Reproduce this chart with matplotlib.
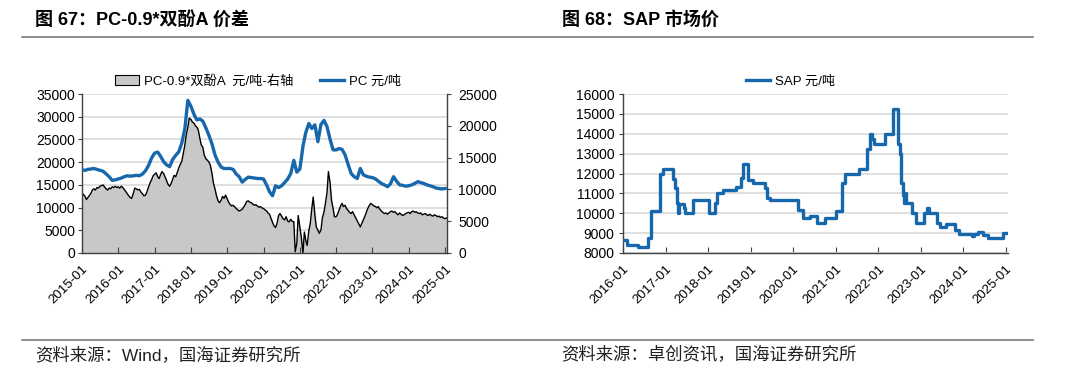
import numpy as np
import pandas as pd
import matplotlib
matplotlib.use('Agg')
import matplotlib.pyplot as plt
import matplotlib.dates as mdates
from matplotlib.lines import Line2D
from matplotlib.patches import Patch
from matplotlib.transforms import blended_transform_factory

plt.rcParams['font.family'] = ['Liberation Sans', 'Noto Sans CJK SC']
plt.rcParams['axes.unicode_minus'] = False

# ---------------- data ----------------
# PC price (yuan/t), monthly from 2015-01
pc_price = [
    18300, 18200, 18400, 18500, 18600, 18400, 18200, 18000, 17400, 16800, 16000, 16100,
    16300, 16500, 16800, 17000, 16900, 17000, 17100, 17000, 17400, 18100, 19300, 20900,
    22000, 22200, 21300, 20100, 19400, 19000, 20600, 21500, 22300, 24200, 27400, 33600,
    32300, 30500, 29300, 29500, 29000, 27500, 25900, 24000, 21500, 20000, 18900, 18600,
    18600, 18600, 18400, 17400, 16800, 15600, 16200, 16700, 16600, 16500, 16400, 16400,
    16300, 15000, 13500, 12600, 14800, 14400, 14800, 15500, 16300, 17500, 20400, 17800,
    18500, 23500, 26500, 28500, 27400, 28200, 24500, 28300, 29200, 27800, 25000, 22700,
    22700, 23000, 22800, 21600, 19500, 17500, 16800, 16400, 18600, 17200, 16900, 16700,
    16600, 16300, 15800, 15300, 15000, 14600, 15200, 16800, 15800, 15000, 14900, 14700,
    14800, 15000, 15300, 15700, 15500, 15300, 15000, 14800, 14600, 14300, 14200, 14100,
    14200,
]

# PC - 0.9*BPA spread (yuan/t, right axis), semi-monthly from 2015-01-01
spread = [
    9400, 9200, 8900, 8400, 8700, 9000, 9400, 9900, 10100, 9900, 10300, 10200,
    10500, 10600, 10700, 10400, 10100, 9900, 10200, 10100, 10400, 10300, 10500, 10300,
    10400, 10200, 10500, 10300, 10000, 9700, 9300, 9000, 8700, 8600, 9400, 10200,
    10100, 9900, 10000, 9600, 9300, 9000, 9100, 9600, 10400, 11000, 11500, 12100,
    12400, 12600, 12000, 11700, 12300, 12800, 12500, 12000, 11400, 10800, 10500, 10900,
    11600, 12200, 12000, 12600, 13400, 13900, 14400, 15600, 17000, 18600, 19800, 21200,
    21000, 20600, 20400, 20000, 19800, 19400, 18000, 17000, 16600, 15400, 14800, 14600,
    14300, 13800, 12500, 11000, 10000, 9000, 8200, 7900, 8300, 8900, 8600, 9100,
    8500, 8000, 7600, 7400, 7500, 7300, 7000, 6800, 6600, 6700, 6900, 7200,
    7600, 8100, 8200, 8000, 7900, 7700, 7500, 7600, 7400, 7200, 7300, 7100,
    7000, 6800, 6600, 6300, 6100, 5500, 4800, 4300, 4000, 4600, 5900, 6200,
    5800, 5400, 5200, 5700, 5000, 4900, 5300, 5000, 4900, 200, 1500, 5900,
    4100, 2500, 0, 3300, 2000, 1200, 3500, 4600, 7000, 8800, 6000, 4100,
    3600, 3100, 3600, 5500, 6500, 7800, 9500, 12800, 11000, 8300, 7000, 5700,
    5700, 6100, 6800, 7400, 7800, 7300, 7500, 7000, 6700, 6400, 6200, 6500,
    6000, 5600, 5000, 4600, 4100, 4600, 5200, 5700, 6400, 7000, 7500, 7800,
    7600, 7400, 7300, 7100, 7300, 6900, 6600, 6400, 6200, 6300, 6100, 6300,
    6500, 6600, 6400, 6500, 6200, 6000, 6300, 6100, 5900, 6000, 6200, 6300,
    6400, 6200, 6500, 6600, 6400, 6500, 6300, 6200, 6300, 6000, 6100, 6200,
    6000, 5900, 6100, 5900, 5800, 6000, 5900, 5700, 5800, 5600, 5700, 5500,
    5400, 5500,
]

# SAP market price (yuan/t): change dates and levels
sap_dates = [
    '2016-01-01', '2016-02-05', '2016-05-08', '2016-07-30', '2016-09-01', '2016-11-15',
    '2016-12-10', '2017-03-10', '2017-03-20', '2017-04-05', '2017-04-15', '2017-04-25',
    '2017-06-05', '2017-06-20', '2017-08-28', '2018-01-05', '2018-03-05', '2018-03-15',
    '2018-05-10', '2018-08-28', '2018-10-10', '2018-10-30', '2018-12-10', '2019-01-25',
    '2019-05-05', '2019-05-20', '2019-06-20', '2020-02-15', '2020-03-25', '2020-05-30',
    '2020-07-25', '2020-09-30', '2021-01-01', '2021-02-25', '2021-03-25', '2021-07-20',
    '2021-09-25', '2021-10-20', '2021-11-10', '2021-11-25', '2022-03-01', '2022-05-10',
    '2022-06-25', '2022-07-05', '2022-07-20', '2022-08-01', '2022-08-10', '2022-08-20',
    '2022-09-01', '2022-10-20', '2022-11-25', '2023-02-01', '2023-02-25', '2023-03-15',
    '2023-05-20', '2023-06-15', '2023-08-05', '2023-10-25', '2023-11-25', '2024-03-20',
    '2024-04-01', '2024-05-05', '2024-06-25', '2024-08-05', '2024-12-10', '2025-01-20',
]
sap_values = [
    8650, 8400, 8300, 8750, 10100, 12000,
    12250, 11700, 11250, 10500, 10000, 10450,
    10250, 10000, 10650, 10000, 10500, 11000,
    11150, 11300, 11750, 12500, 11650, 11500,
    11250, 10750, 10650, 10150, 9750, 9850,
    9500, 9750, 10100, 11500, 12000, 12250,
    13250, 14000, 13750, 13500, 14000, 15250,
    13500, 13000, 11500, 10900, 10500, 11000,
    10500, 10000, 9500, 10000, 10250, 10000,
    9500, 9300, 9450, 9150, 8950, 8850,
    8950, 9050, 8900, 8750, 9000, 9000,
]

left_ticks = [0, 5000, 10000, 15000, 20000, 25000, 30000, 35000]
right_ticks = [0, 5000, 10000, 15000, 20000, 25000]
sap_ticks = [8000, 9000, 10000, 11000, 12000, 13000, 14000, 15000, 16000]

title_left = '图 67：PC-0.9*双酚A 价差'
title_right = '图 68：SAP 市场价'
source_left = '资料来源：Wind，国海证券研究所'
source_right = '资料来源：卓创资讯，国海证券研究所'
legend_area = 'PC-0.9*双酚A  元/吨-右轴'
legend_pc = 'PC 元/吨'
legend_sap = 'SAP 元/吨'

# ---------------- style ----------------
BLUE = '#1767ad'
AREA = '#c8c8c8'
GRID = '#d9d9d9'
SPINE = '#404040'
W, H = 1080, 377

pc_dt = pd.date_range('2015-01-01', periods=len(pc_price), freq='MS')
spread_dt = pd.date_range('2015-01-01', periods=len(spread), freq='SMS')
sap_dt = pd.to_datetime(sap_dates)


def rect(x0, y0, x1, y1):
    return [x0 / W, 1 - y1 / H, (x1 - x0) / W, (y1 - y0) / H]


fig = plt.figure(figsize=(W / 100, H / 100), dpi=100)

# ---------------- left chart ----------------
ax1 = fig.add_axes(rect(82, 94, 447, 253))
ax1r = ax1.twinx()
ax1.set_zorder(2)
ax1r.set_zorder(1)
ax1.patch.set_visible(False)

ax1.set_ylim(0, 35000)
ax1r.set_ylim(0, 25000)
ax1.set_xlim(pd.Timestamp('2015-01-01'), pd.Timestamp('2025-01-20'))

# grid lines at left-axis ticks, drawn beneath the area
gtr = blended_transform_factory(ax1r.transAxes, ax1.transData)
for v in left_ticks[1:]:
    ax1r.add_line(Line2D([0, 1], [v, v], transform=gtr, color=GRID, lw=1.2, zorder=0.5))

ax1r.fill_between(spread_dt, spread, 0, color=AREA, lw=0, zorder=1)
ax1r.plot(spread_dt, spread, color='black', lw=1.0, zorder=2)
ax1.plot(pc_dt, pc_price, color=BLUE, lw=2.4, zorder=3)

ax1.set_yticks(left_ticks)
ax1r.set_yticks(right_ticks)
ax1.xaxis.set_major_locator(mdates.YearLocator(1, month=1, day=1))
ax1.xaxis.set_major_formatter(mdates.DateFormatter('%Y-%m'))

for sp in ['top', 'right']:
    ax1.spines[sp].set_visible(False)
for sp in ['top', 'left', 'bottom']:
    ax1r.spines[sp].set_visible(False)
for sp in ['left', 'bottom']:
    ax1.spines[sp].set_color(SPINE)
    ax1.spines[sp].set_linewidth(1.0)
ax1r.spines['right'].set_color(SPINE)
ax1r.spines['right'].set_linewidth(1.0)

ax1.tick_params(axis='y', direction='out', length=3, pad=2, labelsize=10, color=SPINE)
ax1r.tick_params(axis='y', direction='out', length=3, pad=5, labelsize=10, color=SPINE)
ax1.tick_params(axis='x', direction='in', length=4, pad=7, labelsize=9.5, color=SPINE)
for lab in ax1.get_xticklabels():
    lab.set_rotation(45)
    lab.set_ha('right')
    lab.set_va('top')
    lab.set_rotation_mode('anchor')

h_area = Patch(facecolor=AREA, edgecolor='black', lw=0.8, label=legend_area)
h_pc = Line2D([], [], color=BLUE, lw=2.4, label=legend_pc)
fig.legend(handles=[h_area, h_pc], loc='center', ncol=2, frameon=False,
           bbox_to_anchor=(258 / W, 1 - 81 / H), fontsize=9.5,
           handlelength=1.8, handleheight=0.8, handletextpad=0.4, columnspacing=2.0,
           borderaxespad=0, borderpad=0)

# ---------------- right chart ----------------
ax2 = fig.add_axes(rect(623, 94, 1008, 253))
ax2.set_ylim(8000, 16000)
ax2.set_xlim(pd.Timestamp('2016-01-01'), pd.Timestamp('2025-01-22'))
ax2.set_yticks(sap_ticks)
ax2.yaxis.grid(True, color=GRID, lw=1.2)
ax2.set_axisbelow(True)
ax2.step(sap_dt, sap_values, where='post', color=BLUE, lw=2.4, zorder=3)
ax2.xaxis.set_major_locator(mdates.YearLocator(1, month=1, day=1))
ax2.xaxis.set_major_formatter(mdates.DateFormatter('%Y-%m'))
for sp in ['top', 'right']:
    ax2.spines[sp].set_visible(False)
for sp in ['left', 'bottom']:
    ax2.spines[sp].set_color(SPINE)
    ax2.spines[sp].set_linewidth(1.0)
ax2.tick_params(axis='y', direction='out', length=3, pad=3, labelsize=10, color=SPINE)
ax2.tick_params(axis='x', direction='in', length=4, pad=7, labelsize=9.5, color=SPINE)
for lab in ax2.get_xticklabels():
    lab.set_rotation(45)
    lab.set_ha('right')
    lab.set_va('top')
    lab.set_rotation_mode('anchor')

h_sap = Line2D([], [], color=BLUE, lw=2.4, label=legend_sap)
fig.legend(handles=[h_sap], loc='center', frameon=False,
           bbox_to_anchor=(791 / W, 1 - 82 / H), fontsize=9.5,
           handlelength=1.8, handletextpad=0.4, borderaxespad=0, borderpad=0)

# ---------------- titles, rules, sources ----------------
fig.text(35 / W, 1 - 20 / H, title_left, fontsize=13, fontweight='bold', va='center', ha='left')
fig.text(562 / W, 1 - 20 / H, title_right, fontsize=13, fontweight='bold', va='center', ha='left')
fig.add_artist(Line2D([22 / W, 1033 / W], [1 - 37 / H] * 2, color='#7a7a7a', lw=1.2))
fig.add_artist(Line2D([22 / W, 1033 / W], [1 - 340 / H] * 2, color='#7a7a7a', lw=1.2))
fig.text(35 / W, 1 - 355 / H, source_left, fontsize=12.5, va='center', ha='left', color='#222222')
fig.text(561 / W, 1 - 355 / H, source_right, fontsize=12.5, va='center', ha='left', color='#222222')

fig.savefig('out.png', dpi=100)
